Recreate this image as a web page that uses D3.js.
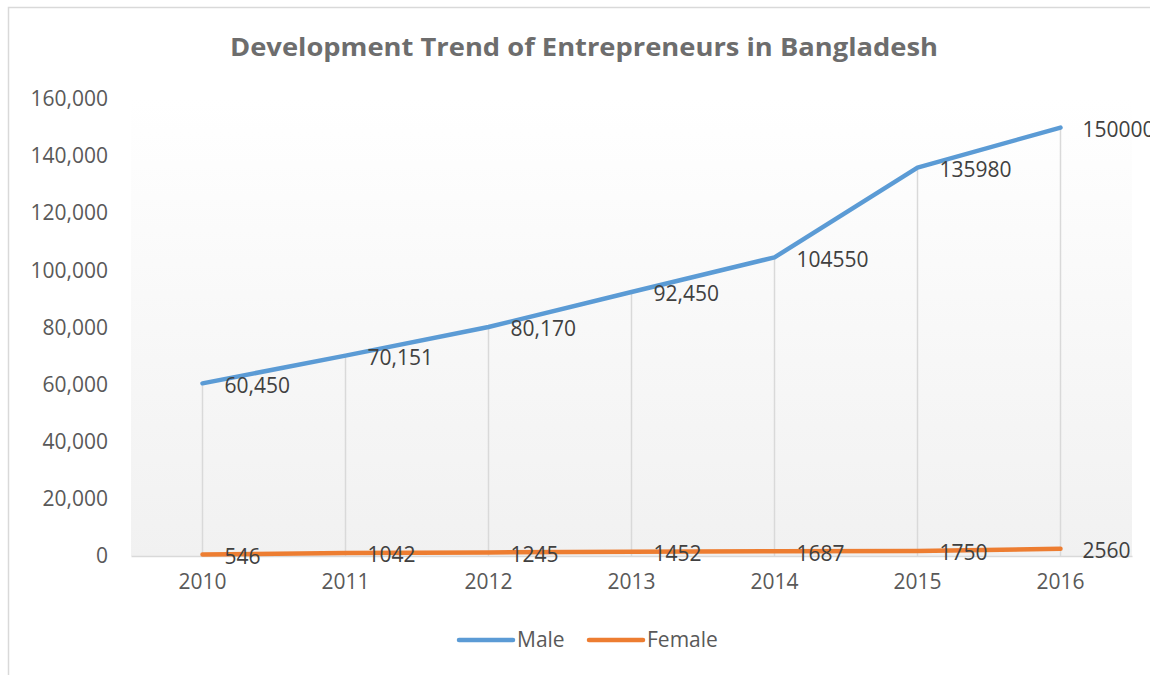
<!DOCTYPE html>
<html>
<head>
<meta charset="utf-8">
<script src="https://cdn.jsdelivr.net/npm/d3@7"></script>
<style>
  body { margin: 0; background: #fff; }
  text { font-family: "Open Sans", sans-serif; }
</style>
</head>
<body>
<div id="chart"></div>
<script>
// data
var years = ["2010", "2011", "2012", "2013", "2014", "2015", "2016"]
var maleValues = [60450, 70151, 80170, 92450, 104550, 135980, 150000]
var femaleValues = [546, 1042, 1245, 1452, 1687, 1750, 2560]
var maleLabels = ["60,450", "70,151", "80,170", "92,450", "104550", "135980", "150000"]
var femaleLabels = ["546", "1042", "1245", "1452", "1687", "1750", "2560"]
var yTicks = [0, 20000, 40000, 60000, 80000, 100000, 120000, 140000, 160000]

var width = 1150, height = 675
var plot = {left: 131, right: 1132, top: 99, bottom: 556}

var svg = d3.select("#chart")
  .append("svg")
    .attr("width", width)
    .attr("height", height)

// chart border (only top and left visible, rest runs off the picture)
svg.append("rect")
  .attr("x", 8.5).attr("y", 7.5)
  .attr("width", 1200).attr("height", 700)
  .attr("fill", "#fff")
  .attr("stroke", "#d9d9d9")
  .attr("stroke-width", 1.5)

// plot area gradient
var grad = svg.append("defs").append("linearGradient")
  .attr("id", "plotGrad")
  .attr("x1", 0).attr("y1", 0).attr("x2", 0).attr("y2", 1)
grad.append("stop").attr("offset", "0%").attr("stop-color", "#ffffff")
grad.append("stop").attr("offset", "100%").attr("stop-color", "#f1f1f1")

svg.append("rect")
  .attr("x", plot.left).attr("y", plot.top)
  .attr("width", plot.right - plot.left)
  .attr("height", plot.bottom - plot.top)
  .attr("fill", "url(#plotGrad)")

var x = d3.scaleBand()
  .domain(years)
  .range([plot.left, plot.right])

var y = d3.scaleLinear()
  .domain([0, 160000])
  .range([plot.bottom, plot.top])

function cx(d) { return x(d) + x.bandwidth() / 2 }

// title
svg.append("text")
  .attr("x", 584).attr("y", 56)
  .attr("text-anchor", "middle")
  .attr("font-size", 25)
  .attr("font-weight", "bold")
  .attr("fill", "#6d6d6d")
  .attr("textLength", 708)
  .attr("lengthAdjust", "spacingAndGlyphs")
  .text("Development Trend of Entrepreneurs in Bangladesh")

// y axis labels
var yAxis = svg.append("g")
  .attr("transform", "translate(" + (plot.left - 23) + ",0)")
  .call(d3.axisLeft(y).tickValues(yTicks).tickSize(0).tickPadding(0).tickFormat(d3.format(",")))
yAxis.select(".domain").remove()
yAxis.selectAll("text")
  .attr("font-size", 21)
  .attr("fill", "#595959")
  .style("font-family", "'Open Sans', sans-serif")

// drop lines
var dropData = years.map(function(yr, i) { return {yr: yr, v: maleValues[i]} })
svg.selectAll(".drop")
  .data(dropData)
  .enter()
  .append("line")
    .attr("class", "drop")
    .attr("x1", function(d) { return cx(d.yr) })
    .attr("x2", function(d) { return cx(d.yr) })
    .attr("y1", function(d) { return y(d.v) })
    .attr("y2", y(0))
    .attr("stroke", "#d9d9d9")
    .attr("stroke-width", 1.5)

// x axis
var xAxis = svg.append("g")
  .attr("transform", "translate(0," + y(0) + ")")
  .call(d3.axisBottom(x).tickSize(0).tickPadding(18))
xAxis.select(".domain")
  .attr("stroke", "#d9d9d9")
  .attr("stroke-width", 1.5)
xAxis.selectAll("text")
  .attr("font-size", 21)
  .attr("fill", "#595959")
  .style("font-family", "'Open Sans', sans-serif")

var series = [
  {name: "Male", values: maleValues, labels: maleLabels, color: "#5b9bd5"},
  {name: "Female", values: femaleValues, labels: femaleLabels, color: "#ed7d31"}
]

var line = d3.line()
  .x(function(d) { return cx(d.yr) })
  .y(function(d) { return y(d.v) })

series.forEach(function(s) {
  var pts = years.map(function(yr, i) { return {yr: yr, v: s.values[i], label: s.labels[i]} })

  svg.append("path")
    .datum(pts)
    .attr("d", line)
    .attr("fill", "none")
    .attr("stroke", s.color)
    .attr("stroke-width", 4.5)
    .attr("stroke-linecap", "round")
    .attr("stroke-linejoin", "round")

  svg.selectAll(".lbl-" + s.name)
    .data(pts)
    .enter()
    .append("text")
      .attr("x", function(d) { return cx(d.yr) + 22 })
      .attr("y", function(d) { return y(d.v) + 2 })
      .attr("dy", "0.35em")
      .attr("font-size", 21)
      .attr("fill", "#404040")
      .text(function(d) { return d.label })
})

// legend
var legendX = [459, 589]
series.forEach(function(s, i) {
  svg.append("line")
    .attr("x1", legendX[i]).attr("x2", legendX[i] + 54)
    .attr("y1", 640).attr("y2", 640)
    .attr("stroke", s.color)
    .attr("stroke-width", 4.5)
    .attr("stroke-linecap", "round")
  svg.append("text")
    .attr("x", legendX[i] + 58)
    .attr("y", 640)
    .attr("dy", "0.35em")
    .attr("font-size", 21)
    .attr("fill", "#595959")
    .text(s.name)
})
</script>
</body>
</html>
